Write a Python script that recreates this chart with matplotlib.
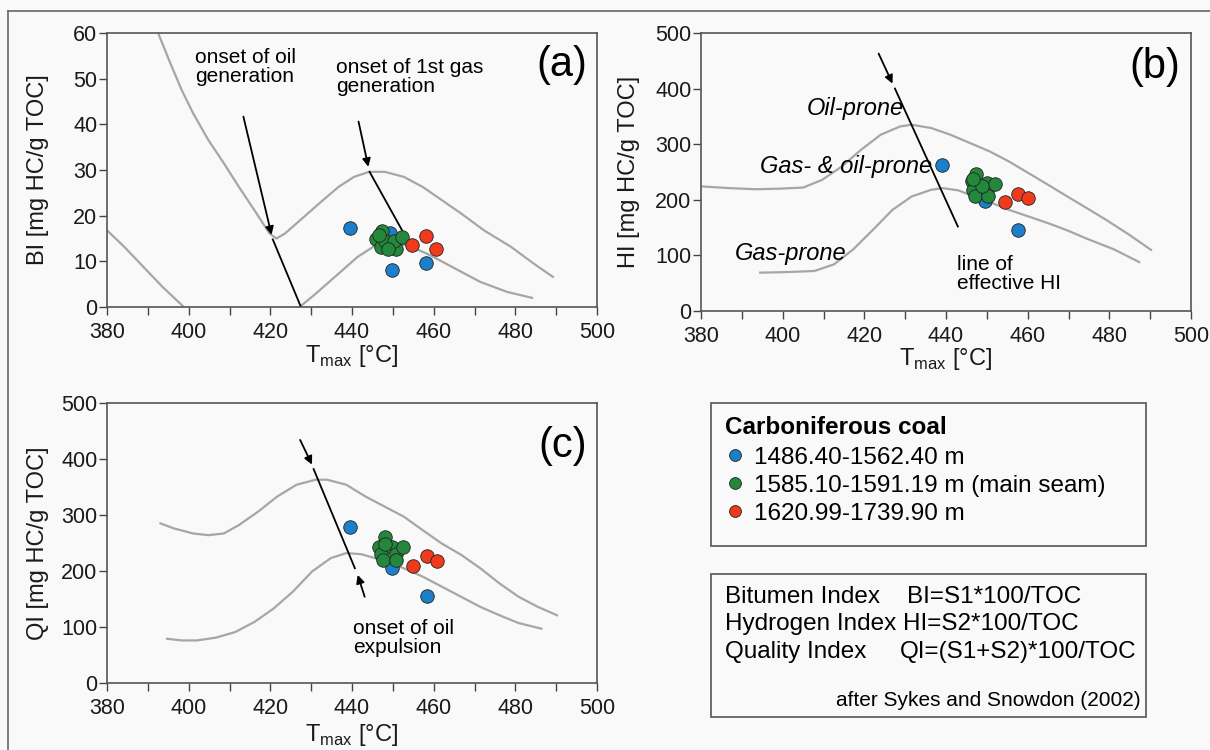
import numpy as np
import matplotlib
matplotlib.use('Agg')
import matplotlib.pyplot as plt
from matplotlib.lines import Line2D
from matplotlib.patches import Rectangle
from matplotlib.ticker import MultipleLocator

plt.rcParams['font.family'] = ['Liberation Sans', 'DejaVu Sans']

# Sample groups (Tmax in degC)
blue_label = '1486.40-1562.40 m'
green_label = '1585.10-1591.19 m (main seam)'
red_label = '1620.99-1739.90 m'

# (a) Bitumen index
blue_t_a = [439.5, 449.4, 449.8, 458.1]
blue_bi = [17.2, 16.1, 8.2, 9.7]
green_t_a = [447.3, 445.9, 447.0, 448.0, 450.8, 450.3, 452.2, 446.6, 448.9]
green_bi = [16.6, 14.8, 13.2, 14.5, 12.6, 14.5, 15.3, 15.8, 12.8]
red_t_a = [454.7, 458.1, 460.6]
red_bi = [13.5, 15.5, 12.6]

# (b) Hydrogen index
blue_t_b = [439.0, 449.6, 457.7]
blue_hi = [262, 197, 146]
green_t_b = [447.3, 446.3, 446.7, 447.1, 450.0, 450.0, 452.0, 450.4, 448.7, 446.5]
green_hi = [247, 233, 218, 206, 230, 218, 228, 206, 224, 238]
red_t_b = [454.5, 457.7, 460.2]
red_hi = [196, 211, 203]

# (c) Quality index
blue_t_c = [439.5, 449.9, 458.3]
blue_qi = [279, 205, 156]
green_t_c = [448.0, 446.6, 447.0, 447.5, 449.8, 450.8, 452.5, 450.8, 448.0]
green_qi = [261, 243, 231, 220, 243, 231, 243, 220, 249]
red_t_c = [455.0, 458.3, 460.8]
red_qi = [209, 226, 217]

# Boundary curves after Sykes and Snowdon (2002)
bi_upper_t = [392.7, 395.5, 398.3, 401.1, 404.8, 408.6, 412.3, 416.1, 419.8, 421.5, 423.6, 427.3,
              432.0, 436.7, 440.5, 444.2, 448.0, 452.7, 457.3, 462.0, 466.7, 472.3, 478.9, 484.5, 489.2]
bi_upper = [59.6, 53.4, 47.5, 42.4, 36.6, 31.5, 26.3, 21.2, 16.1, 15.0, 16.1, 19.0,
            22.7, 26.3, 28.5, 29.6, 29.6, 28.5, 26.3, 23.4, 20.5, 16.8, 13.2, 9.5, 6.6]
bi_lower_t = [427.3, 431.1, 436.7, 441.4, 445.6, 449.8, 453.6, 458.3, 463.0, 471.4, 478.0, 484.1]
bi_lower = [0.1, 2.9, 7.3, 11.0, 13.4, 13.9, 13.5, 11.7, 9.5, 5.5, 3.3, 2.0]
bi_left_t = [380.0, 384.2, 388.9, 393.6, 398.7]
bi_left = [16.8, 13.2, 8.8, 4.4, 0.1]

hi_upper_t = [380.2, 386.9, 393.5, 399.2, 405.0, 409.7, 414.5, 419.2, 424.0, 428.8, 431.6, 436.4,
              441.1, 445.9, 450.7, 455.4, 460.2, 465.0, 469.7, 474.5, 479.2, 484.9, 490.2]
hi_upper = [224, 221, 219, 220, 222, 236, 260, 290, 317, 332, 335, 329,
            317, 302, 287, 269, 248, 227, 206, 185, 164, 137, 110]
hi_lower_t = [394.5, 401.1, 407.8, 412.6, 417.3, 422.1, 426.9, 431.6, 436.4, 439.2, 443.0, 446.9,
              450.7, 455.4, 460.2, 465.0, 469.7, 474.5, 481.1, 487.3]
hi_lower = [69, 70, 72, 84, 111, 146, 182, 206, 218, 221, 217, 206,
            196, 182, 170, 158, 145, 130, 111, 88]

qi_upper_t = [393.1, 396.4, 401.1, 404.8, 408.6, 412.3, 417.0, 421.7, 426.4, 431.1, 433.9, 438.6,
              443.3, 448.0, 452.7, 457.3, 462.0, 466.7, 471.4, 476.1, 480.8, 485.5, 490.2]
qi_upper = [285, 276, 267, 264, 267, 282, 306, 333, 354, 363, 363, 354,
            333, 315, 297, 273, 249, 229, 205, 178, 154, 136, 121]
qi_lower_t = [394.7, 398.3, 402.0, 406.7, 411.4, 416.1, 420.8, 425.5, 430.2, 434.8, 438.6, 442.3,
              447.0, 451.7, 457.3, 462.0, 466.7, 471.4, 476.1, 480.8, 486.4]
qi_lower = [79, 76, 76, 81, 91, 109, 133, 163, 199, 223, 232, 230,
            220, 208, 190, 172, 154, 136, 121, 107, 97]

BLUE = '#1b7fc9'
GREEN = '#23883c'
RED = '#ef3a1c'
CURVE = '#a6a6a6'
BG = '#f9f9f9'

W, H = 1210, 750
fig = plt.figure(figsize=(W / 100, H / 100), dpi=100, facecolor=BG)


def fbox(left, top, right, bottom):
    return [left / W, 1 - bottom / H, (right - left) / W, (bottom - top) / H]


def fxy(x, y):
    return (x / W, 1 - y / H)


def setup(ax, ymax, ystep, ylabel, ylab_x, xlab_y):
    ax.set_facecolor(BG)
    ax.set_xlim(380, 500)
    ax.set_ylim(0, ymax)
    ax.xaxis.set_major_locator(MultipleLocator(20))
    ax.xaxis.set_minor_locator(MultipleLocator(10))
    ax.yaxis.set_major_locator(MultipleLocator(ystep))
    ax.tick_params(axis='x', which='both', direction='out', length=6, width=1, color='#444', pad=5)
    ax.tick_params(axis='y', direction='out', length=6, width=1, color='#444', pad=1)
    ax.tick_params(labelsize=15.5, labelcolor='#1a1a1a')
    for sp in ax.spines.values():
        sp.set_color('#555555')
        sp.set_linewidth(1.2)
    ax.set_ylabel(ylabel, fontsize=17, color='#1a1a1a')
    ax.yaxis.set_label_coords(ylab_x, 0.5)
    ax.set_xlabel(r'T$_{\mathregular{max}}$ [°C]', fontsize=17, color='#1a1a1a', va='top')
    ax.xaxis.set_label_coords(0.5, xlab_y)


def scatter_groups(ax, groups):
    for t, v, c in groups:
        ax.scatter(t, v, s=95, color=c, edgecolors='#222222', linewidths=0.6, zorder=5)


def arrow(ax, start, end):
    ax.annotate('', xy=end, xytext=start,
                arrowprops=dict(arrowstyle='-|>', color='black', lw=1.3,
                                mutation_scale=12, shrinkA=0, shrinkB=0), zorder=4)


# Outer frame
fig.add_artist(Line2D([8 / W, 8 / W], [1 - 11 / H, 0], color='#666666', lw=1.2))
fig.add_artist(Line2D([8 / W, 1], [1 - 11 / H, 1 - 11 / H], color='#666666', lw=1.2))

# (a) BI vs Tmax
ax_a = fig.add_axes(fbox(107, 33, 597, 307))
setup(ax_a, 60, 10, 'BI [mg HC/g TOC]', -0.118, -0.13)
ax_a.plot(bi_upper_t, bi_upper, color=CURVE, lw=1.6)
ax_a.plot(bi_lower_t, bi_lower, color=CURVE, lw=1.6)
ax_a.plot(bi_left_t, bi_left, color=CURVE, lw=1.6)
arrow(ax_a, (413.4, 41.7), (420.3, 15.8))
ax_a.plot([420.6, 427.5], [14.8, 0], color='black', lw=1.3)
arrow(ax_a, (441.6, 40.6), (444.0, 30.7))
ax_a.plot([444.3, 452.7], [29.6, 16.1], color='black', lw=1.3)
scatter_groups(ax_a, [(blue_t_a, blue_bi, BLUE), (green_t_a, green_bi, GREEN), (red_t_a, red_bi, RED)])
ax_a.text(401.5, 56.8, 'onset of oil\ngeneration', fontsize=15, va='top', linespacing=1.0)
ax_a.text(436.2, 54.5, 'onset of 1st gas\ngeneration', fontsize=15, va='top', linespacing=1.0)
ax_a.text(0.98, 0.885, '(a)', transform=ax_a.transAxes, fontsize=30, ha='right', va='center')

# (b) HI vs Tmax
ax_b = fig.add_axes(fbox(701, 33, 1191, 311))
setup(ax_b, 500, 100, 'HI [mg HC/g TOC]', -0.125, -0.125)
ax_b.plot(hi_upper_t, hi_upper, color=CURVE, lw=1.6)
ax_b.plot(hi_lower_t, hi_lower, color=CURVE, lw=1.6)
arrow(ax_b, (423.5, 463), (426.9, 409))
ax_b.plot([427.5, 442.9], [400, 152], color='black', lw=1.3)
scatter_groups(ax_b, [(blue_t_b, blue_hi, BLUE), (green_t_b, green_hi, GREEN), (red_t_b, red_hi, RED)])
ax_b.text(405.9, 364, 'Oil-prone', fontsize=17, style='italic', va='center')
ax_b.text(394.5, 260, 'Gas- & oil-prone', fontsize=17, style='italic', va='center')
ax_b.text(388.3, 103, 'Gas-prone', fontsize=17, style='italic', va='center')
ax_b.text(442.6, 100, 'line of\neffective HI', fontsize=15, va='top', linespacing=1.0)
ax_b.text(0.978, 0.878, '(b)', transform=ax_b.transAxes, fontsize=30, ha='right', va='center')

# (c) QI vs Tmax
ax_c = fig.add_axes(fbox(107, 403, 597, 683))
setup(ax_c, 500, 100, 'QI [mg HC/g TOC]', -0.118, -0.14)
ax_c.plot(qi_upper_t, qi_upper, color=CURVE, lw=1.6)
ax_c.plot(qi_lower_t, qi_lower, color=CURVE, lw=1.6)
arrow(ax_c, (427.3, 434), (430.2, 390))
ax_c.plot([430.6, 440.7], [382, 205], color='black', lw=1.3)
arrow(ax_c, (443.1, 154), (441.4, 193))
scatter_groups(ax_c, [(blue_t_c, blue_qi, BLUE), (green_t_c, green_qi, GREEN), (red_t_c, red_qi, RED)])
ax_c.text(440.3, 114, 'onset of oil\nexpulsion', fontsize=15, va='top', linespacing=1.0)
ax_c.text(0.98, 0.845, '(c)', transform=ax_c.transAxes, fontsize=30, ha='right', va='center')

# Sample legend box
fig.add_artist(Rectangle(fxy(711, 546), (1146 - 711) / W, (546 - 403) / H, transform=fig.transFigure,
                         fill=False, ec='#555555', lw=1.2))
fig.text(*fxy(725, 428), 'Carboniferous coal', fontsize=17.5, fontweight='bold', va='center')
for yy, col, lab in [(455, BLUE, blue_label), (483, GREEN, green_label), (511, RED, red_label)]:
    x0, y0 = fxy(735, yy)
    fig.add_artist(Line2D([x0], [y0], marker='o', ms=8.5, mfc=col, mec='#222222', mew=0.6,
                          transform=fig.transFigure))
    fig.text(*fxy(754, yy + 3), lab, fontsize=17.5, va='center')

# Index definitions box
fig.add_artist(Rectangle(fxy(711, 717), (1146 - 711) / W, (717 - 574) / H, transform=fig.transFigure,
                         fill=False, ec='#555555', lw=1.2))
defs = [(597, 'Bitumen Index', 907, 'BI=S1*100/TOC'),
        (624, 'Hydrogen Index', 903, 'HI=S2*100/TOC'),
        (652, 'Quality Index', 900, 'QI=(S1+S2)*100/TOC')]
for yy, name, xf, formula in defs:
    fig.text(*fxy(725, yy), name, fontsize=17.5, va='center')
    fig.text(*fxy(xf, yy), formula, fontsize=17.5, va='center')
fig.text(*fxy(1141, 700), 'after Sykes and Snowdon (2002)', fontsize=15, ha='right', va='center')

fig.savefig('out.png', dpi=100, facecolor=BG)
